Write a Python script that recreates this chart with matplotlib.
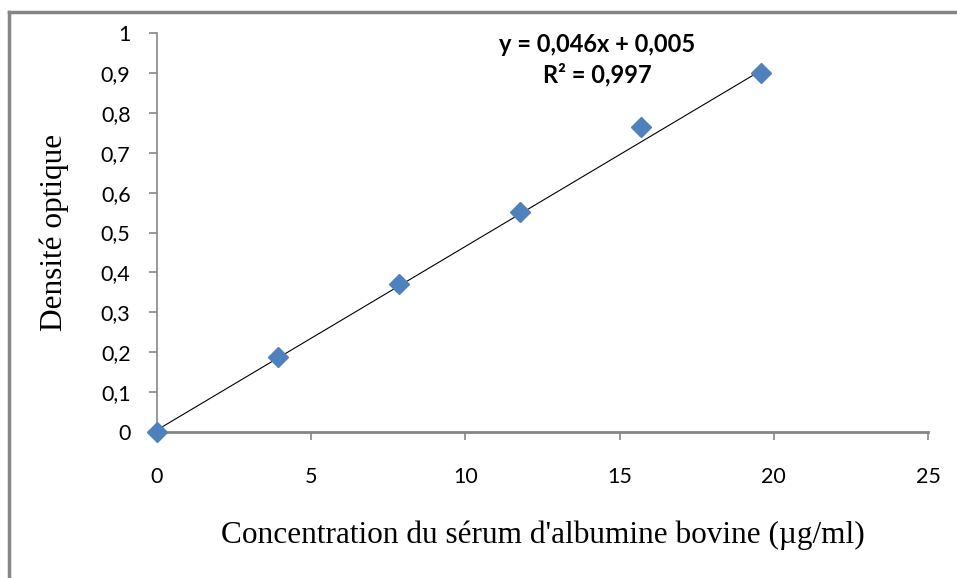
import numpy as np
import matplotlib.pyplot as plt
from matplotlib.lines import Line2D

# BSA standard curve
concentration = [0, 3.92, 7.84, 11.76, 15.68, 19.6]
absorbance = [0, 0.188, 0.371, 0.551, 0.764, 0.900]
slope = 0.046
intercept = 0.005
r2 = 0.997

xticks = [0, 5, 10, 15, 20, 25]
yticks = [0, 0.1, 0.2, 0.3, 0.4, 0.5, 0.6, 0.7, 0.8, 0.9, 1]

def fr(v):
    return ('%g' % v).replace('.', ',')

fig = plt.figure(figsize=(9.57, 5.78), dpi=100)
ax = fig.add_axes([0.164, 0.2526, 0.8057, 0.6903])

grey = '#868686'
tickFont = 'Lato'
serif = 'Liberation Serif'

ax.plot(concentration, absorbance, linestyle='none', marker='D',
        markersize=10.5, color='#4F81BD', zorder=3, clip_on=False)

xfit = np.array([min(concentration), max(concentration)])
ax.plot(xfit, slope * xfit + intercept, color='black', linewidth=0.8, zorder=2)

ax.set_xlim(0, 25)
ax.set_ylim(0, 1)
ax.set_xticks(xticks)
ax.set_yticks(yticks)
ax.set_xticklabels([fr(v) for v in xticks], fontfamily=tickFont, fontsize=15.5)
ax.set_yticklabels([fr(v) for v in yticks], fontfamily=tickFont, fontsize=15.5)
ax.tick_params(axis='both', color=grey, length=6, width=1.2, direction='out')
ax.tick_params(axis='x', pad=19)
ax.tick_params(axis='y', pad=13)

for side in ['top', 'right']:
    ax.spines[side].set_visible(False)
for side in ['left', 'bottom']:
    ax.spines[side].set_color(grey)
ax.spines['left'].set_linewidth(1.2)
ax.spines['bottom'].set_linewidth(2)

ax.set_xlabel("Concentration du sérum d'albumine bovine (µg/ml)",
              fontfamily=serif, fontsize=22.5, labelpad=24)
ax.set_ylabel('Densité optique', fontfamily=serif, fontsize=22.5, labelpad=23)

ax.text(14.27, 0.97, 'y = %sx + %s' % (fr(slope), fr(intercept)),
        fontfamily=tickFont, fontweight='bold', fontsize=17,
        ha='center', va='center')
ax.text(14.27, 0.895, 'R² = %s' % fr(r2),
        fontfamily=tickFont, fontweight='bold', fontsize=17,
        ha='center', va='center')

# outer chart frame (only top and left edges show)
fig.add_artist(Line2D([9 / 957, 1], [1 - 12 / 578, 1 - 12 / 578],
                      color=grey, linewidth=2.5, transform=fig.transFigure))
fig.add_artist(Line2D([9 / 957, 9 / 957], [0, 1 - 12 / 578],
                      color=grey, linewidth=2.5, transform=fig.transFigure))

fig.savefig('out.png', dpi=100, facecolor='white')
